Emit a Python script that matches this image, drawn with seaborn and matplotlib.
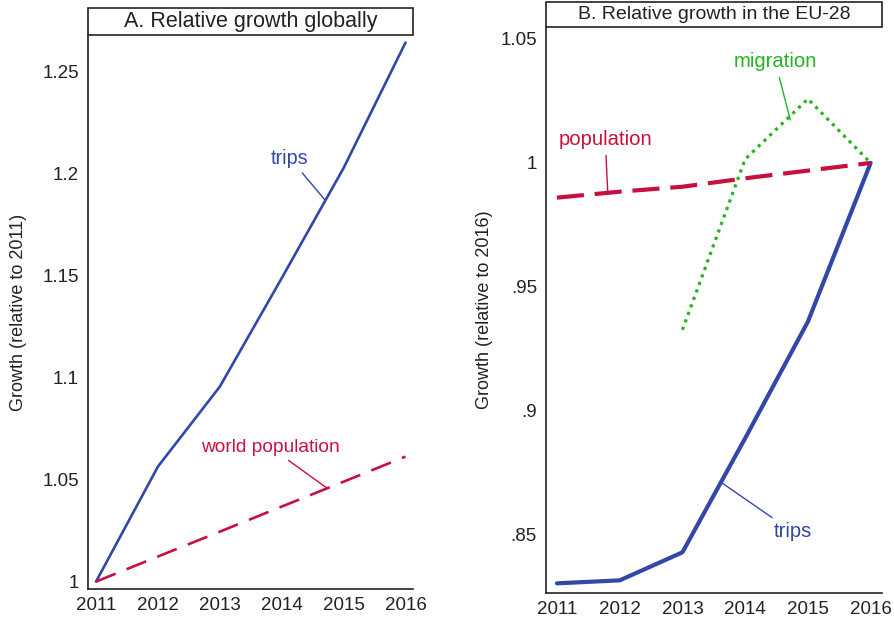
import numpy as np
import pandas as pd
import matplotlib
matplotlib.use("Agg")
import matplotlib.pyplot as plt
from matplotlib.patches import Rectangle
import seaborn as sns

# data
years = [2011, 2012, 2013, 2014, 2015, 2016]
global_trips = [1.0, 1.0564, 1.0956, 1.1488, 1.2028, 1.2643]
world_pop = [1.0, 1.0123, 1.0245, 1.0368, 1.0490, 1.0613]

eu_trips = [0.8305, 0.8317, 0.8430, 0.8890, 0.9360, 1.0]
eu_pop = [0.9860, 0.9884, 0.9904, 0.9938, 0.9969, 1.0]
mig_years = [2013, 2014, 2015, 2016]
eu_migration = [0.9327, 1.0015, 1.0258, 1.0]

left_ticks = [1, 1.05, 1.1, 1.15, 1.2, 1.25]
left_ticklabels = ["1", "1.05", "1.1", "1.15", "1.2", "1.25"]
right_ticks = [0.85, 0.9, 0.95, 1, 1.05]
right_ticklabels = [".85", ".9", ".95", "1", "1.05"]

BLUE = "#3347a8"
RED = "#c8103f"
GREEN = "#22b422"
TXT = "#222222"

sns.set_style("white")
plt.rcParams['font.family'] = ['Liberation Sans', 'DejaVu Sans']

glob = pd.DataFrame({"year": years, "trips": global_trips, "pop": world_pop})
eu = pd.DataFrame({"year": years, "trips": eu_trips, "pop": eu_pop})
mig = pd.DataFrame({"year": mig_years, "migration": eu_migration})

fig = plt.figure(figsize=(8.94, 6.22), dpi=100)
ax1 = fig.add_axes([0.0984, 0.0531, 0.3635, 0.8906])
ax2 = fig.add_axes([0.6107, 0.0466, 0.3758, 0.9100])

# panel A
sns.lineplot(data=glob, x="year", y="trips", ax=ax1, color=BLUE, lw=1.9)
sns.lineplot(data=glob, x="year", y="pop", ax=ax1, color=RED, lw=1.9,
             linestyle=(0, (8, 4.5)))
ax1.set_xlim(2010.87, 2016.12)
ax1.set_ylim(0.9964, 1.268)
ax1.set_yticks(left_ticks)
ax1.set_yticklabels(left_ticklabels)
ax1.set_ylabel("Growth (relative to 2011)", fontsize=13, color=TXT)
ax1.yaxis.set_label_coords(-0.187, 0.5)

ax1.annotate("trips", xy=(2014.70, 1.1871), xytext=(2014.13, 1.2077),
             ha="center", va="center", color=BLUE, fontsize=14.2,
             arrowprops=dict(arrowstyle="-", color=BLUE, lw=1, shrinkA=2, shrinkB=0))
ax1.annotate("world population", xy=(2014.73, 1.0459), xytext=(2013.81, 1.0660),
             ha="center", va="center", color=RED, fontsize=13.8,
             arrowprops=dict(arrowstyle="-", color=RED, lw=1, shrinkA=2, shrinkB=0))

# panel B
sns.lineplot(data=eu, x="year", y="trips", ax=ax2, color=BLUE, lw=3.0)
sns.lineplot(data=eu, x="year", y="pop", ax=ax2, color=RED, lw=3.0,
             linestyle=(0, (6.5, 2.6)))
sns.lineplot(data=mig, x="year", y="migration", ax=ax2, color=GREEN, lw=2.3,
             linestyle=(0, (1, 1.5)))
ax2.set_xlim(2010.825, 2016.18)
ax2.set_ylim(0.8266, 1.0548)
ax2.set_yticks(right_ticks)
ax2.set_yticklabels(right_ticklabels)
ax2.set_ylabel("Growth (relative to 2016)", fontsize=13, color=TXT)
ax2.yaxis.set_label_coords(-0.158, 0.5)

ax2.annotate("population", xy=(2011.81, 0.9879), xytext=(2011.77, 1.0093),
             ha="center", va="center", color=RED, fontsize=14.6,
             arrowprops=dict(arrowstyle="-", color=RED, lw=1, shrinkA=2, shrinkB=0))
ax2.annotate("migration", xy=(2014.72, 1.0173), xytext=(2014.48, 1.0407),
             ha="center", va="center", color=GREEN, fontsize=14.6,
             arrowprops=dict(arrowstyle="-", color=GREEN, lw=1, shrinkA=2, shrinkB=0))
ax2.annotate("trips", xy=(2013.63, 0.8710), xytext=(2014.76, 0.8512),
             ha="center", va="center", color=BLUE, fontsize=14.6,
             arrowprops=dict(arrowstyle="-", color=BLUE, lw=1, shrinkA=2, shrinkB=0))

titles = ["A. Relative growth globally", "B. Relative growth in the EU-28"]
title_size = [15.5, 14]
box_h = [0.0487, 0.0442]
for ax, title, h, fs in zip([ax1, ax2], titles, box_h, title_size):
    ax.set_xticks(years)
    ax.set_xlabel("")
    ax.tick_params(axis="both", length=0, labelsize=13.5, colors=TXT, pad=6)
    ax.tick_params(axis="y", pad=6.5)
    for s in ["top", "right"]:
        ax.spines[s].set_visible(False)
    for s in ["left", "bottom"]:
        ax.spines[s].set_color("#222222")
        ax.spines[s].set_linewidth(1.2)
    ax.add_patch(Rectangle((0, 1), 1, h, transform=ax.transAxes, fill=False,
                           edgecolor="#222222", lw=1.2, clip_on=False))
    ax.text(0.5, 1 + h / 2, title, transform=ax.transAxes, ha="center",
            va="center", fontsize=fs, color=TXT)

fig.savefig("out.png", dpi=100)
